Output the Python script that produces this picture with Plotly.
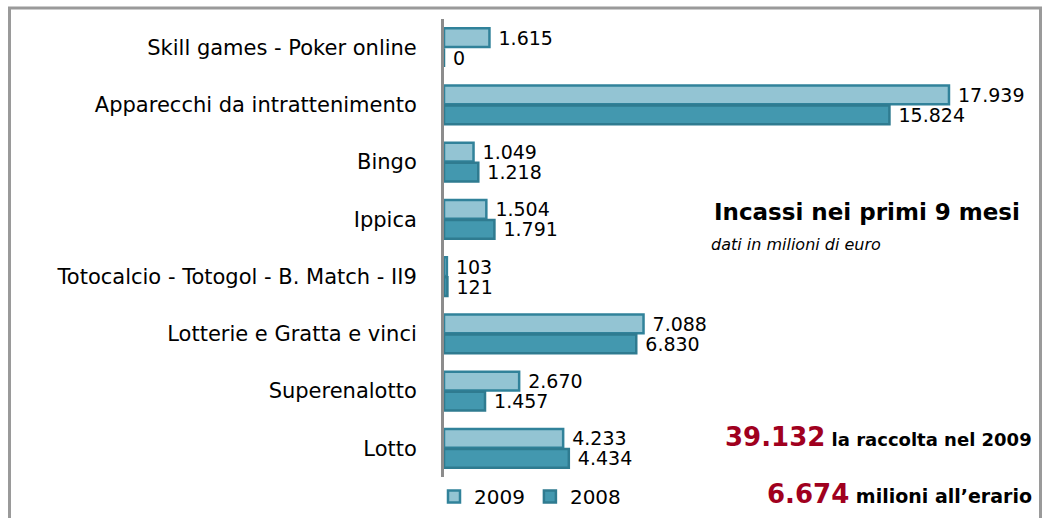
import plotly.graph_objects as go

categories = ["Skill games - Poker online", "Apparecchi da intrattenimento", "Bingo", "Ippica",
              "Totocalcio - Totogol - B. Match - II9", "Lotterie e Gratta e vinci",
              "Superenalotto", "Lotto"]
values_2009 = [1615, 17939, 1049, 1504, 103, 7088, 2670, 4233]
values_2008 = [0, 15824, 1218, 1791, 121, 6830, 1457, 4434]
series_names = ["2009", "2008"]

def fmt(v):
    return f"{v:,}".replace(",", ".")

L, R, T, B = 444, 41, 19, 41
W, H = 1048, 518
pw, ph = W - L - R, H - T - B

def px(x):
    return (x - L) / pw

def py(y):
    return (H - B - y) / ph

FONT = "DejaVu Sans, Verdana, sans-serif"
label_font = dict(family=FONT, size=19, color="#000000")

fig = go.Figure()
fig.add_trace(go.Bar(
    y=categories, x=values_2009, name=series_names[0], orientation="h",
    marker=dict(color="#93C4D3", line=dict(color="#31829A", width=2.5)),
    text=[" " + fmt(v) for v in values_2009], textposition="outside",
    textfont=label_font, cliponaxis=False, constraintext="none",
))
fig.add_trace(go.Bar(
    y=categories, x=values_2008, name=series_names[1], orientation="h",
    marker=dict(color="#4398AF", line=dict(color="#2F7B90", width=2.5)),
    text=[" " + fmt(v) for v in values_2008], textposition="outside",
    textfont=label_font, cliponaxis=False, constraintext="none",
))

annotations = [
    dict(x=px(1022), y=py(212), xref="paper", yref="paper", xanchor="right", yanchor="middle",
         text="<b>Incassi nei primi 9 mesi</b>", showarrow=False,
         font=dict(family=FONT, size=23, color="#000000")),
    dict(x=px(709), y=py(244), xref="paper", yref="paper", xanchor="left", yanchor="middle",
         text="<i>dati in milioni di euro</i>", showarrow=False,
         font=dict(family=FONT, size=16, color="#000000")),
    dict(x=px(1034), y=py(437), xref="paper", yref="paper", xanchor="right", yanchor="middle",
         text="<b><span style='font-size:26px;color:#A0001E'>39.132</span> la raccolta nel 2009</b>",
         showarrow=False,
         font=dict(family=FONT, size=18, color="#000000")),
    dict(x=px(1034), y=py(494), xref="paper", yref="paper", xanchor="right", yanchor="middle",
         text="<b><span style='font-size:26px;color:#A0001E'>6.674</span> milioni all’erario</b>",
         showarrow=False,
         font=dict(family=FONT, size=19, color="#000000")),
]

shapes = [
    dict(type="line", xref="paper", yref="paper", x0=px(9.5), x1=px(9.5), y0=py(8), y1=py(540),
         line=dict(color="#9A9A9A", width=3)),
    dict(type="line", xref="paper", yref="paper", x0=px(8), x1=px(1042), y0=py(8), y1=py(8),
         line=dict(color="#9A9A9A", width=3)),
    dict(type="line", xref="paper", yref="paper", x0=px(1040.5), x1=px(1040.5), y0=py(8), y1=py(540),
         line=dict(color="#9A9A9A", width=3)),
]

fig.update_layout(
    width=W, height=H,
    margin=dict(l=L, r=R, t=T, b=B, autoexpand=False),
    paper_bgcolor="white", plot_bgcolor="white",
    barmode="group", bargap=0.3, bargroupgap=0.06,
    showlegend=True,
    legend=dict(orientation="h", x=px(434), y=py(477), xanchor="left", yanchor="top",
                font=dict(family=FONT, size=20, color="#000000"),
                itemwidth=30, tracegroupgap=0, bgcolor="rgba(0,0,0,0)"),
    xaxis=dict(range=[0, 20000], visible=False, showgrid=False, zeroline=False),
    yaxis=dict(autorange="reversed", showline=True, linecolor="#8C8C8C", linewidth=3,
               ticks="", ticklabelstandoff=20, showgrid=False,
               tickfont=dict(family=FONT, size=21, color="#000000")),
    annotations=annotations,
    shapes=shapes,
)

fig.write_html("out.html")
